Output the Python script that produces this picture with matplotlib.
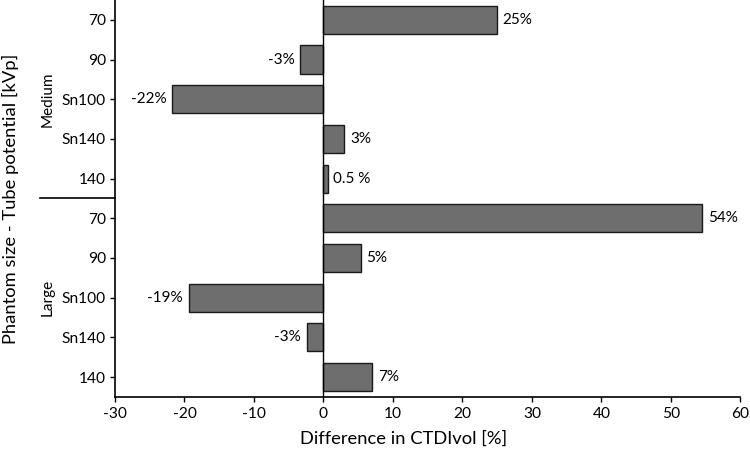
import matplotlib
matplotlib.use("Agg")
import matplotlib.pyplot as plt
import matplotlib.transforms as mtransforms

plt.rcParams["font.family"] = ["Lato", "DejaVu Sans"]
plt.rcParams["axes.unicode_minus"] = False

# data
tick_labels = ["70", "90", "Sn100", "Sn140", "140",
               "70", "90", "Sn100", "Sn140", "140"]
values = [24.9, -3.4, -21.8, 3.0, 0.6,
          54.5, 5.4, -19.4, -2.4, 7.0]
value_labels = ["25%", "-3%", "-22%", "3%", "0.5 %",
                "54%", "5%", "-19%", "-3%", "7%"]
groups = ["Medium", "Large"]
x_ticks = [-30, -20, -10, 0, 10, 20, 30, 40, 50, 60]

fig = plt.figure(figsize=(7.5, 4.5), dpi=100)
ax = fig.add_axes([0.1533, 0.118, 0.834, 0.882])

pos = list(range(len(values)))
ax.barh(pos, values, height=0.71, color="#6e6e6e", edgecolor="#1a1a1a", linewidth=1.0, zorder=2)
ax.axvline(0, color="black", linewidth=1.0, zorder=3)

for p, v, lab in zip(pos, values, value_labels):
    if v >= 0:
        ax.annotate(lab, (v, p), xytext=(4, 0), textcoords="offset points",
                    ha="left", va="center", fontsize=11)
    else:
        ax.annotate(lab, (v, p), xytext=(-4, 0), textcoords="offset points",
                    ha="right", va="center", fontsize=11)

ax.set_xlim(-30, 60)
ax.set_ylim(9.5, -0.5)
ax.set_xticks(x_ticks)
ax.set_yticks(pos)
ax.set_yticklabels(tick_labels)
ax.tick_params(axis="both", labelsize=11.2, length=3.6, width=1.0, direction="out")
ax.tick_params(axis="y", pad=3)

for s in ["top", "right"]:
    ax.spines[s].set_visible(False)
for s in ["left", "bottom"]:
    ax.spines[s].set_linewidth(1.2)

# group separator and labels
trans = mtransforms.blended_transform_factory(ax.transAxes, ax.transData)
ax.plot([-0.12, 0], [4.5, 4.5], transform=trans, color="black", linewidth=1.2, clip_on=False)
ax.text(-0.108, 2, groups[0], transform=trans, rotation=90, ha="center", va="center", fontsize=11)
ax.text(-0.108, 7, groups[1], transform=trans, rotation=90, ha="center", va="center", fontsize=11)

ax.set_xlabel("Difference in CTDIvol [%]", fontsize=13.2)
ax.xaxis.set_label_coords(0.461, -0.086)
ax.set_ylabel("Phantom size - Tube potential [kVp]", fontsize=13.2)
ax.yaxis.set_label_coords(-0.153, 0.5)

fig.savefig("out.png", dpi=100)
